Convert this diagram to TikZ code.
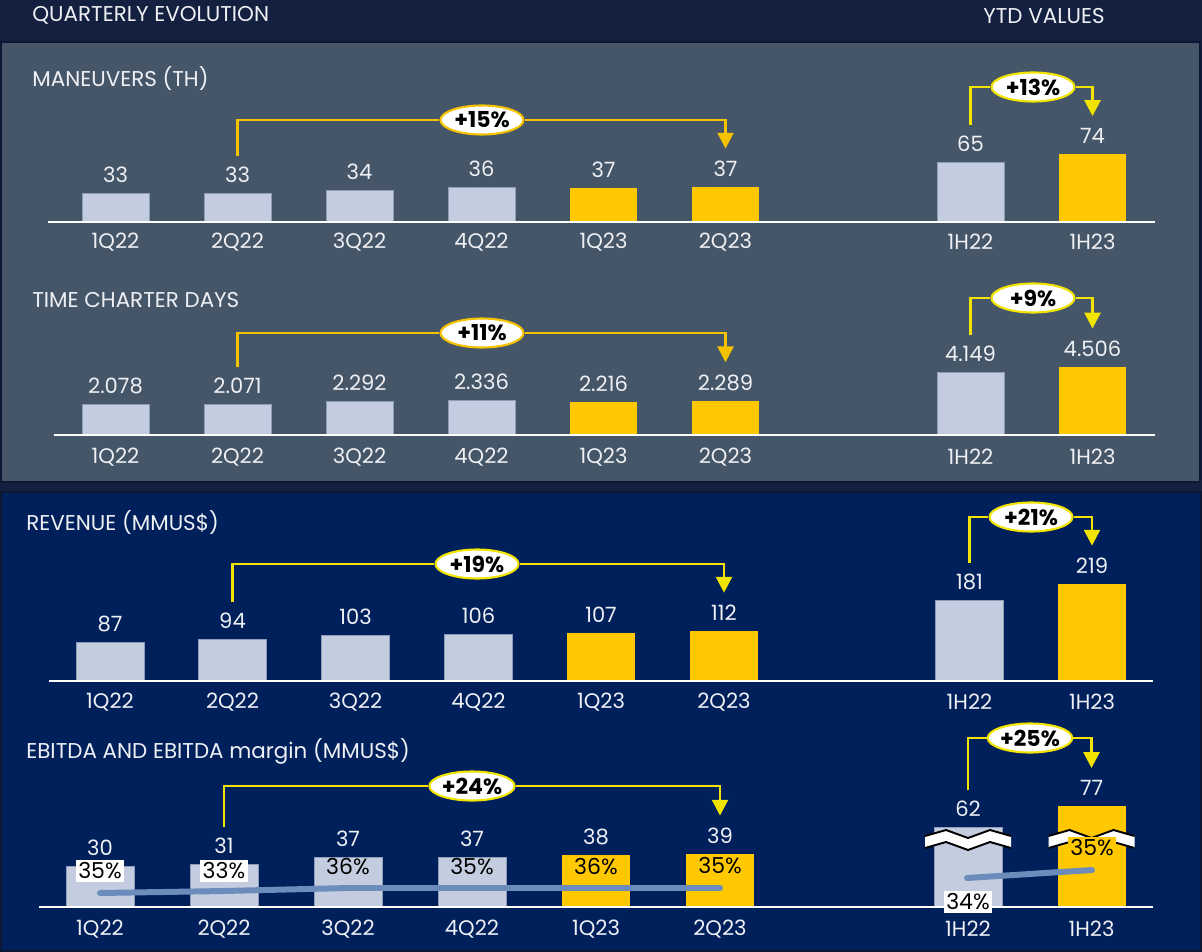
\documentclass[tikz,border=0pt]{standalone}
\usepackage{fontspec}
\setmainfont{Poppins}
\usetikzlibrary{shapes.geometric,arrows.meta}

\definecolor{hdrblue}{HTML}{14203F}
\definecolor{edgeblue}{HTML}{0C1734}
\definecolor{slatebg}{HTML}{465669}
\definecolor{navybg}{HTML}{00205C}
\definecolor{bargrey}{HTML}{C3CDDF}
\definecolor{barline}{HTML}{8D9CB8}
\definecolor{baryel}{HTML}{FFC800}
\definecolor{goldarr}{HTML}{F5C200}
\definecolor{lemonarr}{HTML}{F2E400}
\definecolor{txtw}{HTML}{EEF0F4}
\definecolor{marginln}{HTML}{6C8CBB}

\tikzset{
  greybar/.style={fill=bargrey, draw=barline, line width=0.5pt},
  yelbar/.style={fill=baryel},
  valtxt/.style={text=txtw, anchor=south, inner sep=1pt, font=\fontsize{12}{14}\selectfont},
  cattxt/.style={text=txtw, font=\fontsize{12}{14}\selectfont},
  hdtext/.style={text=txtw, anchor=west, inner sep=0pt, font=\fontsize{12.2}{14}\selectfont},
  pill/.style={ellipse, draw=#1, fill=white, line width=1.2pt, minimum width=1.66cm,
    minimum height=0.58cm, inner sep=0pt, font=\bfseries\fontsize{12.5}{15}\selectfont},
  growth/.style={draw=#1, line width=1.6pt},
  tip/.style={-{Triangle[width=9pt,length=9pt]}},
  pct/.style={text=black, inner sep=1.5pt, font=\fontsize{12.5}{14}\selectfont},
  axisln/.style={draw=white, line width=1.3pt},
  marginline/.style={draw=marginln, line width=3.4pt, line cap=round},
}

\begin{document}
\begin{tikzpicture}[x=0.02cm, y=-0.02cm]
\useasboundingbox (0,0) rectangle (1202,952);

% backgrounds
\fill[hdrblue] (0,0) rectangle (1202,952);
\filldraw[fill=slatebg, draw=edgeblue, line width=1.5pt] (1,42) rectangle (1200,482);
\filldraw[fill=navybg, draw=edgeblue, line width=1.5pt] (1,492) rectangle (1201,951);

\node[hdtext] (hq) at (32,15) {QUARTERLY EVOLUTION};
\node[hdtext] (hy) at (983,16) {YTD VALUES};

% maneuvers
\node[hdtext] (t1) at (32,78) {MANEUVERS (TH)};
\foreach \cx/\top/\val/\nm/\sty in {115.5/193/33/ma/greybar, 237.5/193/33/mb/greybar,
    359.5/190/34/mc/greybar, 481.5/187/36/md/greybar, 603.5/188/37/me/yelbar,
    725.5/187/37/mf/yelbar, 970.5/162/65/mg/greybar, 1092.5/154/74/mh/yelbar} {
  \path[\sty] (\cx-33.5,222) rectangle (\cx+33.5,\top);
  \node[valtxt] (\nm) at (\cx,\top-8) {\val};
}
\draw[axisln] (48,222) -- (1155,222);
\foreach \cx/\lab in {115.5/1Q22, 237.5/2Q22, 359.5/3Q22, 481.5/4Q22, 603.5/1Q23,
    725.5/2Q23, 970.5/1H22, 1092.5/1H23}
  \node[cattxt] at (\cx,242) {\lab};
\node[pill=goldarr] (ga) at (482,120) {+15\%};
\draw[growth=goldarr, shorten <=5pt] (mb.north) |- (ga);
\draw[growth=goldarr, tip, shorten >=6pt] (ga) -| (mf.north);
\node[pill=lemonarr] (gb) at (1033,87) {+13\%};
\draw[growth=lemonarr, shorten <=5pt] (mg.north) |- (gb);
\draw[growth=lemonarr, tip, shorten >=6pt] (gb) -| (mh.north);

% time charter days
\node[hdtext] (t2) at (32,300) {TIME CHARTER DAYS};
\foreach \cx/\top/\val/\nm/\sty in {115.5/404/2.078/ca/greybar, 237.5/404/2.071/cb/greybar,
    359.5/401/2.292/cc/greybar, 481.5/400/2.336/cd/greybar, 603.5/402/2.216/ce/yelbar,
    725.5/401/2.289/cf/yelbar, 970.5/372/4.149/cg/greybar, 1092.5/367/4.506/ch/yelbar} {
  \path[\sty] (\cx-33.5,435) rectangle (\cx+33.5,\top);
  \node[valtxt] (\nm) at (\cx,\top-8) {\val};
}
\draw[axisln] (54,435) -- (1155,435);
\foreach \cx/\lab in {115.5/1Q22, 237.5/2Q22, 359.5/3Q22, 481.5/4Q22, 603.5/1Q23,
    725.5/2Q23, 970.5/1H22, 1092.5/1H23}
  \node[cattxt] at (\cx,457) {\lab};
\node[pill=goldarr] (gc) at (482,333) {+11\%};
\draw[growth=goldarr, shorten <=5pt] (cb.north) |- (gc);
\draw[growth=goldarr, tip, shorten >=6pt] (gc) -| (cf.north);
\node[pill=lemonarr] (gd) at (1033,298) {+9\%};
\draw[growth=lemonarr, shorten <=5pt] (cg.north) |- (gd);
\draw[growth=lemonarr, tip, shorten >=6pt] (gd) -| (ch.north);

% revenue
\node[hdtext] (t3) at (26,522) {REVENUE (MMUS\$)};
\foreach \cx/\top/\val/\nm/\sty in {110/642/87/ra/greybar, 232.5/639/94/rb/greybar,
    355.5/635/103/rc/greybar, 478.5/634/106/rd/greybar, 601/633/107/re/yelbar,
    724/631/112/rf/yelbar, 969.5/600/181/rg/greybar, 1092/584/219/rh/yelbar} {
  \path[\sty] (\cx-34,681) rectangle (\cx+34,\top);
  \node[valtxt] (\nm) at (\cx,\top-8) {\val};
}
\draw[axisln] (49,681) -- (1153,681);
\foreach \cx/\lab in {110/1Q22, 232.5/2Q22, 355.5/3Q22, 478.5/4Q22, 601/1Q23,
    724/2Q23, 969.5/1H22, 1092/1H23}
  \node[cattxt] at (\cx,702) {\lab};
\node[pill=lemonarr] (ge) at (477,564) {+19\%};
\draw[growth=lemonarr, shorten <=5pt] (rb.north) |- (ge);
\draw[growth=lemonarr, tip, shorten >=6pt] (ge) -| (rf.north);
\node[pill=lemonarr] (gf) at (1031,517) {+21\%};
\draw[growth=lemonarr, shorten <=5pt] (rg.north) |- (gf);
\draw[growth=lemonarr, tip, shorten >=6pt] (gf) -| (rh.north);

% ebitda and margin
\node[hdtext] (t4) at (26,751) {EBITDA AND EBITDA margin (MMUS\$)};
\foreach \cx/\top/\val/\nm/\sty in {100/866/30/ea/greybar, 224/864/31/eb/greybar,
    348/857/37/ec/greybar, 472/857/37/ed/greybar, 596/855/38/ee/yelbar,
    720/854/39/ef/yelbar, 968/827/62/eg/greybar, 1091.5/806/77/eh/yelbar} {
  \path[\sty] (\cx-34,907) rectangle (\cx+34,\top);
  \node[valtxt] (\nm) at (\cx,\top-8) {\val};
}
% axis breaks on the YTD bars
\foreach \bx in {968,1091.5} {
  \fill[white] (\bx-43,836) -- (\bx-22,830) -- (\bx,838) -- (\bx+22,830) -- (\bx+43,836)
    -- (\bx+43,848) -- (\bx+22,842) -- (\bx,850) -- (\bx-22,842) -- (\bx-43,848) -- cycle;
  \draw[black, line width=1.1pt] (\bx-43,836) -- (\bx-22,830) -- (\bx,838) -- (\bx+22,830) -- (\bx+43,836);
  \draw[black, line width=1.1pt] (\bx-43,848) -- (\bx-22,842) -- (\bx,850) -- (\bx+22,842) -- (\bx+43,848);
}
\draw[axisln] (39,907) -- (1153,907);
\foreach \cx/\lab in {100/1Q22, 224/2Q22, 348/3Q22, 472/4Q22, 596/1Q23,
    720/2Q23, 968/1H22, 1091.5/1H23}
  \node[cattxt] at (\cx,929) {\lab};
\draw[marginline] (100,893) -- (224,891) -- (348,888) -- (472,888) -- (596,888) -- (720,888);
\draw[marginline] (967,878) -- (1092,870);
\node[pct, fill=white] (pa) at (100,871) {35\%};
\node[pct, fill=white] (pb) at (224,871) {33\%};
\node[pct] (pc) at (348,867) {36\%};
\node[pct] (pd) at (472,867) {35\%};
\node[pct] (pe) at (596,867) {36\%};
\node[pct] (pf) at (720,866) {35\%};
\node[pct, fill=white] (pg) at (968,902) {34\%};
\node[pct, fill=baryel] (ph) at (1092,848) {35\%};
\node[pill=lemonarr] (gg) at (472,786) {+24\%};
\draw[growth=lemonarr, shorten <=5pt] (eb.north) |- (gg);
\draw[growth=lemonarr, tip, shorten >=6pt] (gg) -| (ef.north);
\node[pill=lemonarr] (gh) at (1030,738) {+25\%};
\draw[growth=lemonarr, shorten <=5pt] (eg.north) |- (gh);
\draw[growth=lemonarr, tip, shorten >=6pt] (gh) -| (eh.north);
\end{tikzpicture}
\end{document}
